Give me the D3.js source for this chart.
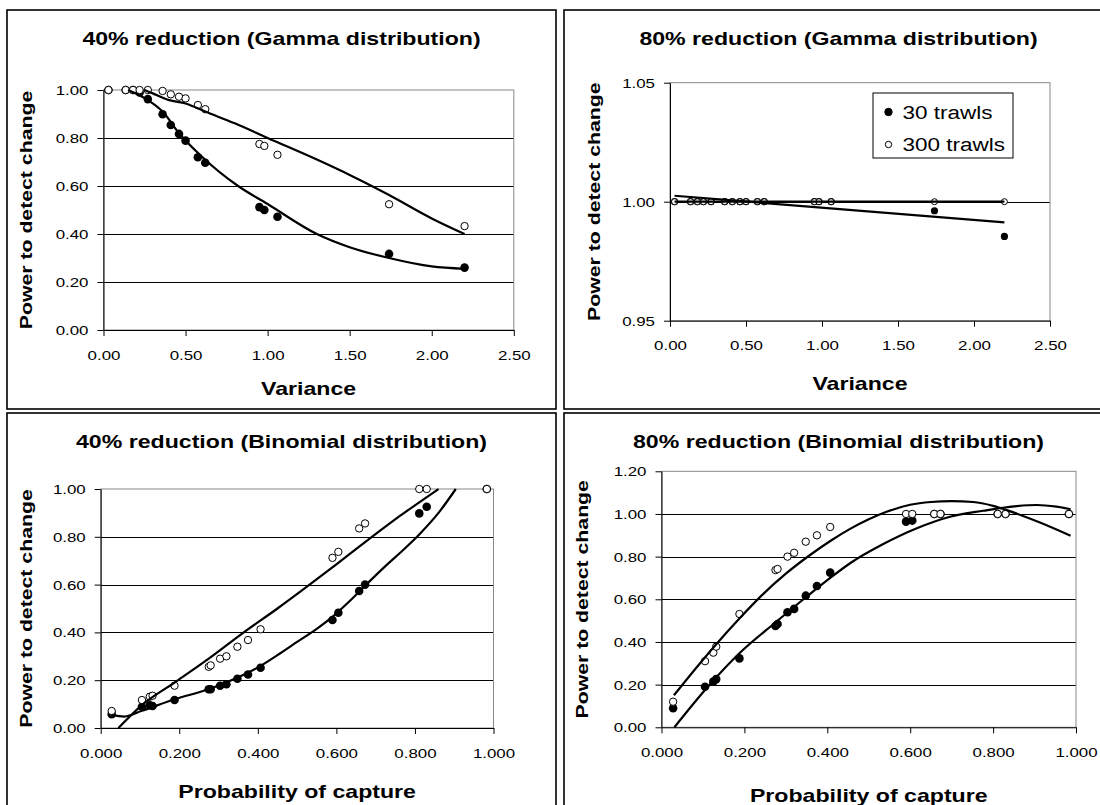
<!DOCTYPE html>
<html>
<head>
<meta charset="utf-8">
<style>
    body {
        margin: 0;
        background: #fff;
    }

    svg text {
        font-family: "Liberation Sans", Arial, sans-serif;
        fill: #000;
    }
</style>
<script src="https://cdnjs.cloudflare.com/ajax/libs/d3/7.8.5/d3.min.js"></script>
</head>
<body>
<svg id="chart" width="1100" height="805"></svg>
<script>
    // ---- data ----
    var titles = ["40% reduction (Gamma distribution)", "80% reduction (Gamma distribution)",
        "40% reduction (Binomial distribution)", "80% reduction (Binomial distribution)"];
    var seriesNames = ["30 trawls", "300 trawls"];

    // gamma panels: variance on x
    var variance = [0.03, 0.135, 0.18, 0.22, 0.27, 0.36, 0.41, 0.46, 0.50, 0.575, 0.62, 0.95, 0.98, 1.06, 1.74, 2.20];
    var gamma40_30 = [1.00, 1.00, 1.00, 0.99, 0.962, 0.899, 0.854, 0.817, 0.789, 0.72, 0.697, 0.512, 0.50, 0.472, 0.317, 0.26];
    var gamma40_300 = [1.00, 1.00, 1.00, 1.00, 1.00, 0.996, 0.982, 0.972, 0.965, 0.9375, 0.92, 0.775, 0.767, 0.73, 0.524, 0.433];
    var gamma80_30 = [1, 1, 1, 1, 1, 1, 1, 1, 1, 1, 1, 1, 1, 1, 0.9962, 0.9854];
    var gamma80_300 = [1, 1, 1, 1, 1, 1, 1, 1, 1, 1, 1, 1, 1, 1, 1, 1];

    // binomial panels: probability of capture on x
    var capture = [0.028, 0.105, 0.125, 0.132, 0.188, 0.275, 0.28, 0.304, 0.32, 0.348, 0.375, 0.407, 0.59, 0.605, 0.658, 0.673, 0.811, 0.83, 0.983];
    var binom40_30 = [0.058, 0.089, 0.095, 0.092, 0.117, 0.162, 0.162, 0.177, 0.183, 0.206, 0.224, 0.252, 0.452, 0.482, 0.573, 0.600, 0.898, 0.926, 1.00];
    var binom40_300 = [0.071, 0.117, 0.131, 0.135, 0.177, 0.256, 0.262, 0.29, 0.30, 0.34, 0.368, 0.413, 0.712, 0.737, 0.835, 0.856, 1.00, 1.00, 1.00];
    var binom80_30 = [0.089, 0.19, 0.214, 0.226, 0.323, 0.475, 0.484, 0.539, 0.555, 0.617, 0.662, 0.725, 0.964, 0.969, 1.0, 1.0, 1.0, 1.0, 1.0];
    var binom80_300 = [0.12, 0.31, 0.35, 0.378, 0.531, 0.737, 0.742, 0.80, 0.818, 0.87, 0.90, 0.939, 1.0, 1.0, 1.0, 1.0, 1.0, 1.0, 1.0];

    // fitted trend lines
    var fitG40_30x = [0.15, 0.27, 0.36, 0.46, 0.60, 0.82, 1.00, 1.30, 1.50, 1.74, 2.00, 2.20];
    var fitG40_30y = [1.00, 0.958, 0.91, 0.82, 0.722, 0.60, 0.525, 0.40, 0.345, 0.30, 0.265, 0.255];
    var fitG40_300x = [0.25, 0.30, 0.40, 0.50, 0.62, 0.80, 1.00, 1.30, 1.50, 1.74, 2.00, 2.20];
    var fitG40_300y = [1.00, 0.986, 0.958, 0.944, 0.91, 0.861, 0.80, 0.71, 0.646, 0.5625, 0.465, 0.40];
    var fitG80_30x = [0.03, 2.20];
    var fitG80_30y = [1.0025, 0.9913];
    var fitG80_300x = [0.03, 2.20];
    var fitG80_300y = [1.0, 1.0];
    var fitB40_30x = [0.028, 0.06, 0.105, 0.188, 0.28, 0.34, 0.407, 0.45, 0.50, 0.55, 0.59, 0.63, 0.676, 0.72, 0.77, 0.811, 0.86, 0.904];
    var fitB40_30y = [0.055, 0.048, 0.072, 0.12, 0.165, 0.205, 0.26, 0.305, 0.36, 0.415, 0.465, 0.525, 0.60, 0.67, 0.745, 0.81, 0.90, 1.00];
    var fitB40_300x = [0.045, 0.105, 0.188, 0.275, 0.36, 0.45, 0.52, 0.60, 0.683, 0.76, 0.86];
    var fitB40_300y = [0.0, 0.096, 0.19, 0.29, 0.395, 0.50, 0.585, 0.685, 0.79, 0.885, 1.00];
    var fitB80_30x = [0.031, 0.105, 0.188, 0.274, 0.35, 0.411, 0.455, 0.535, 0.616, 0.696, 0.776, 0.857, 0.905, 0.953, 0.987];
    var fitB80_30y = [0.0, 0.175, 0.347, 0.49, 0.612, 0.706, 0.769, 0.859, 0.933, 0.987, 1.015, 1.037, 1.042, 1.034, 1.022];
    var fitB80_300x = [0.03, 0.08, 0.13, 0.188, 0.24, 0.30, 0.36, 0.411, 0.455, 0.50, 0.543, 0.60, 0.65, 0.70, 0.752, 0.80, 0.833, 0.913, 0.987];
    var fitB80_300y = [0.15, 0.27, 0.385, 0.51, 0.615, 0.72, 0.81, 0.878, 0.93, 0.975, 1.01, 1.043, 1.056, 1.06, 1.056, 1.038, 1.018, 0.96, 0.898];

    // tick values
    var varianceTicks = [0, 0.5, 1.0, 1.5, 2.0, 2.5];
    var captureTicks = [0, 0.2, 0.4, 0.6, 0.8, 1.0];
    var powerTicks = [0, 0.2, 0.4, 0.6, 0.8, 1.0];
    var powerTicksWide = [0, 0.2, 0.4, 0.6, 0.8, 1.0, 1.2];
    var powerTicksNarrow = [0.95, 1.0, 1.05];

    // ---- drawing ----
    var SX = 1.25; // text in the figure is drawn wider than normal
    var svg = d3.select("#chart");
    svg.append("rect").attr("width", 1100).attr("height", 805).attr("fill", "#fff");

    var panels = [
        { title: titles[0], xLabel: "Variance", box: [7, 10, 549, 399],
          plot: { l: 103.5, r: 513.8, t: 90, b: 330 }, xDomain: [0, 2.5], yDomain: [0, 1],
          xTicks: varianceTicks, yTicks: powerTicks, xFmt: ".2f",
          xs: variance, s30: gamma40_30, s300: gamma40_300,
          f30: [fitG40_30x, fitG40_30y], f300: [fitG40_300x, fitG40_300y],
          r: 4, yLabX: 31.5, xLabY: 395, titleY: 45 },
        { title: titles[1], xLabel: "Variance", box: [564, 10, 549, 399],
          plot: { l: 670, r: 1050, t: 82.7, b: 320.7 }, xDomain: [0, 2.5], yDomain: [0.95, 1.05],
          xTicks: varianceTicks, yTicks: powerTicksNarrow, xFmt: ".2f",
          xs: variance, s30: gamma80_30, s300: gamma80_300,
          f30: [fitG80_30x, fitG80_30y], f300: [fitG80_300x, fitG80_300y],
          r: 3.3, yLabX: 599.5, xLabY: 390, titleY: 45, legend: true },
        { title: titles[2], xLabel: "Probability of capture", box: [7, 413, 549, 399],
          plot: { l: 100.7, r: 493.5, t: 489, b: 728 }, xDomain: [0, 1], yDomain: [0, 1],
          xTicks: captureTicks, yTicks: powerTicks, xFmt: ".3f",
          xs: capture, s30: binom40_30, s300: binom40_300,
          f30: [fitB40_30x, fitB40_30y], f300: [fitB40_300x, fitB40_300y],
          r: 4, yLabX: 31.5, xLabY: 798, titleY: 448 },
        { title: titles[3], xLabel: "Probability of capture", box: [564, 413, 549, 399],
          plot: { l: 661.5, r: 1076, t: 471.3, b: 727.3 }, xDomain: [0, 1], yDomain: [0, 1.2],
          xTicks: captureTicks, yTicks: powerTicksWide, xFmt: ".3f",
          xs: capture, s30: binom80_30, s300: binom80_300,
          f30: [fitB80_30x, fitB80_30y], f300: [fitB80_300x, fitB80_300y],
          r: 4, yLabX: 588, xLabY: 802, titleY: 448 }
    ];

    panels.forEach(drawPanel);

    function drawPanel(p) {
        var g = svg.append("g");
        var x = d3.scaleLinear().domain(p.xDomain).range([p.plot.l, p.plot.r]);
        var y = d3.scaleLinear().domain(p.yDomain).range([p.plot.b, p.plot.t]);

        // outer frame
        g.append("rect")
            .attr("x", p.box[0]).attr("y", p.box[1])
            .attr("width", p.box[2]).attr("height", p.box[3])
            .attr("fill", "none").attr("stroke", "#000").attr("stroke-width", 1.6);

        // gridlines
        g.selectAll(".grid").data(p.yTicks.slice(1, -1)).enter().append("line")
            .attr("x1", p.plot.l).attr("x2", p.plot.r)
            .attr("y1", function (d) { return Math.round(y(d)) + 0.5; })
            .attr("y2", function (d) { return Math.round(y(d)) + 0.5; })
            .attr("stroke", "#000").attr("stroke-width", 1);

        // plot area border
        g.append("rect")
            .attr("x", p.plot.l).attr("y", p.plot.t)
            .attr("width", p.plot.r - p.plot.l).attr("height", p.plot.b - p.plot.t)
            .attr("fill", "none").attr("stroke", "#888").attr("stroke-width", 1);

        // axes
        var xAxis = g.append("g")
            .attr("transform", "translate(0," + p.plot.b + ")")
            .call(d3.axisBottom(x).tickValues(p.xTicks).tickSize(6).tickSizeOuter(0)
                .tickFormat(d3.format(p.xFmt)));
        xAxis.selectAll("text")
            .attr("y", 0).attr("dy", "0.71em")
            .attr("transform", "translate(0,20) scale(" + SX + ",1)");

        var yAxis = g.append("g")
            .attr("transform", "translate(" + p.plot.l + ",0)")
            .call(d3.axisLeft(y).tickValues(p.yTicks).tickSize(6).tickSizeOuter(0)
                .tickFormat(d3.format(".2f")));
        yAxis.selectAll("text")
            .attr("x", 0).attr("dy", "0.34em")
            .attr("transform", "translate(-15,0) scale(" + SX + ",1)");

        [xAxis, yAxis].forEach(function (a) {
            a.attr("font-size", 13.5).attr("font-family", null);
            a.select(".domain").attr("stroke", "#000");
            a.selectAll(".tick line").attr("stroke", "#000");
            a.selectAll("text").attr("fill", "#000");
        });

        // titles
        var cx = p.box[0] + p.box[2] / 2;
        g.append("text")
            .attr("transform", "translate(" + cx + "," + p.titleY + ") scale(" + SX + ",1)")
            .attr("text-anchor", "middle").attr("font-weight", "bold").attr("font-size", 18.5)
            .text(p.title);
        g.append("text")
            .attr("transform", "translate(" + (p.plot.l + p.plot.r) / 2 + "," + p.xLabY + ") scale(" + SX + ",1)")
            .attr("text-anchor", "middle").attr("font-weight", "bold").attr("font-size", 18.5)
            .text(p.xLabel);
        g.append("text")
            .attr("transform", "translate(" + p.yLabX + "," + (p.plot.t + p.plot.b) / 2 + ") rotate(-90) scale(" + SX + ",1)")
            .attr("text-anchor", "middle").attr("font-weight", "bold").attr("font-size", 17)
            .text("Power to detect change");

        // points: 30 trawls filled, 300 trawls open
        g.selectAll(".p30").data(p.xs).enter().append("circle")
            .attr("cx", function (d) { return x(d); })
            .attr("cy", function (d, i) { return y(p.s30[i]); })
            .attr("r", p.r + 0.3).attr("fill", "#000");
        g.selectAll(".p300").data(p.xs).enter().append("circle")
            .attr("cx", function (d) { return x(d); })
            .attr("cy", function (d, i) { return y(p.s300[i]); })
            .attr("r", p.r - 0.3).attr("fill", "#fff").attr("stroke", "#000").attr("stroke-width", 1);

        // trend lines
        var line = d3.line()
            .x(function (d) { return x(d[0]); })
            .y(function (d) { return y(d[1]); })
            .curve(d3.curveMonotoneX);
        [p.f30, p.f300].forEach(function (f) {
            g.append("path")
                .datum(d3.zip(f[0], f[1]))
                .attr("d", line)
                .attr("fill", "none").attr("stroke", "#000").attr("stroke-width", 2.2);
        });

        if (p.legend) drawLegend(g);
    }

    function drawLegend(g) {
        var lg = g.append("g").attr("transform", "translate(873,93)");
        lg.append("rect").attr("width", 140).attr("height", 65)
            .attr("fill", "#fff").attr("stroke", "#000").attr("stroke-width", 1);
        var rows = lg.selectAll(".row").data(seriesNames).enter().append("g")
            .attr("transform", function (d, i) { return "translate(0," + (19 + i * 32.5) + ")"; });
        rows.append("circle")
            .attr("cx", 15.5).attr("cy", 0)
            .attr("r", function (d, i) { return i === 0 ? 3.7 : 3.2; })
            .attr("fill", function (d, i) { return i === 0 ? "#000" : "#fff"; })
            .attr("stroke", "#000").attr("stroke-width", 1);
        rows.append("text")
            .attr("transform", "translate(29.5,6.5) scale(" + SX + ",1)")
            .attr("font-size", 18)
            .text(function (d) { return d; });
    }
</script>
</body>
</html>
